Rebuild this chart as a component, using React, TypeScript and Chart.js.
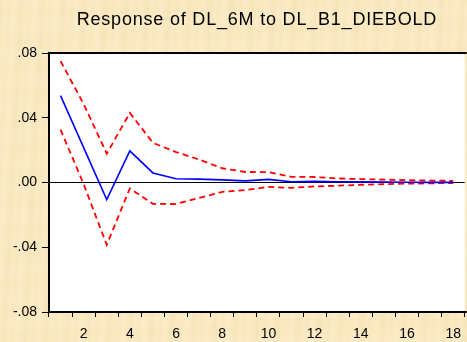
import React, { useEffect, useRef } from "react";
import { Chart, registerables } from "chart.js";

Chart.register(...registerables);

const titleText = "Response of DL_6M to DL_B1_DIEBOLD";
const periods = ["1", "2", "3", "4", "5", "6", "7", "8", "9", "10", "11", "12", "13", "14", "15", "16", "17", "18"];
const response = [0.0537, 0.0215, -0.0105, 0.0195, 0.0059, 0.0023, 0.0021, 0.0016, 0.001, 0.0019, 0.0005, 0.0007, 0.0005, 0.0004, 0.0003, 0.0002, 0.0001, 0.0001];
const upperBand = [0.075, 0.0485, 0.0178, 0.043, 0.0245, 0.0188, 0.0142, 0.0088, 0.0065, 0.0064, 0.0035, 0.0034, 0.0025, 0.0021, 0.0018, 0.0014, 0.0012, 0.001];
const lowerBand = [0.0327, -0.001, -0.0385, -0.0037, -0.0132, -0.0133, -0.0095, -0.0058, -0.0047, -0.0027, -0.0033, -0.0024, -0.002, -0.0014, -0.001, -0.0007, -0.0005, -0.0003];
const yMin = -0.08;
const yMax = 0.08;
const yStep = 0.04;

const FONT = '"Liberation Sans", Arial, sans-serif';

function fmtY(v: number): string {
  if (Math.abs(v) < 1e-9) return ".00";
  const s = Math.abs(v).toFixed(2).replace(/^0/, "");
  return v < 0 ? "-" + s : s;
}

const framePlugin = {
  id: "frame",
  beforeDraw(chart: any) {
    const { ctx, chartArea: a } = chart;
    ctx.save();
    ctx.fillStyle = "#ffffff";
    ctx.fillRect(a.left, a.top, a.right - a.left, a.bottom - a.top);
    ctx.restore();
  },
  afterDatasetsDraw(chart: any) {
    const { ctx, chartArea: a } = chart;
    ctx.save();
    ctx.strokeStyle = "#000000";
    ctx.lineWidth = 2;
    ctx.beginPath();
    ctx.moveTo(a.right + 2, a.top);
    ctx.lineTo(a.left, a.top);
    ctx.lineTo(a.left, a.bottom);
    ctx.lineTo(a.right + 2, a.bottom);
    ctx.stroke();
    ctx.restore();
  },
  afterDraw(chart: any) {
    const { ctx, chartArea: a } = chart;
    ctx.save();
    ctx.font = "18px " + FONT;
    (ctx as any).letterSpacing = "0.8px";
    ctx.fillStyle = "#000000";
    ctx.textAlign = "center";
    ctx.textBaseline = "alphabetic";
    ctx.fillText(titleText, (a.left + a.right) / 2, 25);
    ctx.restore();
  },
};

export default function App() {
  const ref = useRef<HTMLCanvasElement | null>(null);

  useEffect(() => {
    if (!ref.current) return;
    const chart = new Chart(ref.current, {
      type: "line",
      data: {
        labels: periods,
        datasets: [
          {
            data: response,
            borderColor: "#0000ff",
            borderWidth: 1.6,
            pointRadius: 0,
            tension: 0,
            fill: false,
          },
          {
            data: upperBand,
            borderColor: "#ff0000",
            borderWidth: 1.8,
            borderDash: [6, 4],
            pointRadius: 0,
            tension: 0,
            fill: false,
          },
          {
            data: lowerBand,
            borderColor: "#ff0000",
            borderWidth: 1.8,
            borderDash: [6, 4],
            pointRadius: 0,
            tension: 0,
            fill: false,
          },
        ],
      },
      options: {
        responsive: false,
        animation: false,
        devicePixelRatio: 1,
        layout: { padding: { top: 53, right: 1, left: 0, bottom: 0 } },
        plugins: {
          legend: { display: false },
          title: { display: false },
          tooltip: { enabled: false },
        },
        scales: {
          x: {
            type: "category",
            offset: true,
            border: { display: false },
            grid: {
              offset: true,
              drawOnChartArea: false,
              drawTicks: true,
              tickLength: 5,
              tickColor: "#000000",
              lineWidth: 1,
            },
            ticks: {
              autoSkip: false,
              maxRotation: 0,
              minRotation: 0,
              color: "#000000",
              font: { family: FONT, size: 14 },
              padding: 9,
              callback: (_v: any, i: number) => ((i + 1) % 2 === 0 ? periods[i] : ""),
            },
            afterFit: (s: any) => {
              s.height = 30;
            },
          },
          y: {
            min: yMin,
            max: yMax,
            border: { display: false },
            grid: {
              drawOnChartArea: true,
              drawTicks: true,
              tickLength: 7,
              tickColor: "#000000",
              lineWidth: 1,
              color: (c: any) => (c.tick && Math.abs(c.tick.value) < 1e-9 ? "#000000" : "rgba(0,0,0,0)"),
            },
            ticks: {
              stepSize: yStep,
              color: "#000000",
              font: { family: FONT, size: 14 },
              padding: 5,
              callback: (v: any) => fmtY(Number(v)),
            },
            afterFit: (s: any) => {
              s.width = 49;
            },
          },
        },
      },
      plugins: [framePlugin],
    });
    return () => chart.destroy();
  }, []);

  return (
    <div
      style={{
        position: "fixed",
        left: 0,
        top: 0,
        width: 467,
        height: 342,
        overflow: "hidden",
        backgroundColor: "#fbeac3",
        backgroundImage:
          "repeating-linear-gradient(93deg, rgba(225,195,130,0.16) 0px, rgba(255,248,225,0.0) 5px, rgba(230,200,140,0.08) 9px, rgba(255,248,225,0.12) 14px, rgba(225,195,130,0.12) 21px), repeating-linear-gradient(178deg, rgba(255,250,230,0.12) 0px, rgba(230,200,140,0.06) 13px, rgba(255,250,230,0.1) 27px)",
      }}
    >
      <canvas ref={ref} width={470} height={342} style={{ display: "block", width: 470, height: 342 }} />
    </div>
  );
}
